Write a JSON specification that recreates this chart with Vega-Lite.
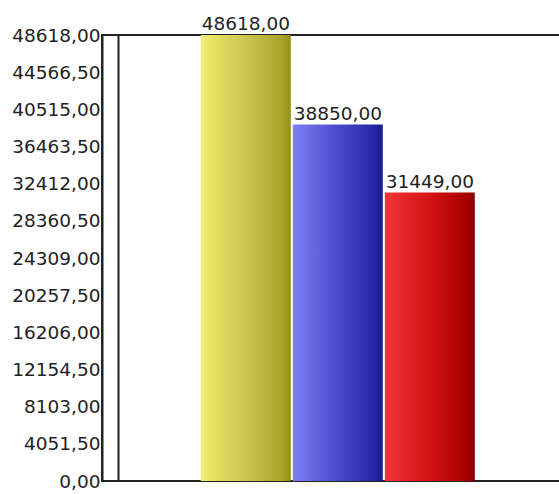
{
  "$schema": "https://vega.github.io/schema/vega-lite/v6.json",
  "autosize": {"type": "none"},
  "padding": {"left": 102, "top": 35, "right": 0, "bottom": 13},
  "width": 458,
  "height": 446,
  "background": "white",
  "config": {
    "view": {"stroke": "#222222", "strokeWidth": 2},
    "font": "DejaVu Sans",
    "axis": {"grid": false},
    "locale": {"number": {"decimal": ",", "thousands": ".", "grouping": [3], "currency": ["", " €"]}}
  },
  "data": {"values": [
    {"name": "1", "value": 48618},
    {"name": "2", "value": 38850},
    {"name": "3", "value": 31449}
  ]},
  "encoding": {
    "x": {"field": "name", "type": "nominal", "axis": null,
      "scale": {"domain": ["1", "2", "3"], "paddingInner": 0.022, "paddingOuter": 1.045, "align": 0.537}},
    "y": {"field": "value", "type": "quantitative",
      "scale": {"domain": [0, 48618], "nice": false, "zero": true}}
  },
  "layer": [
    {
      "transform": [{"filter": "datum.name === '1'"}],
      "mark": {"type": "bar", "color": {"gradient": "linear", "x1": 0, "x2": 1, "y1": 0, "y2": 0,
        "stops": [{"offset": 0, "color": "#f4f07e"}, {"offset": 0.12, "color": "#e6e262"}, {"offset": 0.5, "color": "#cbc653"}, {"offset": 0.9, "color": "#aaa428"}, {"offset": 1, "color": "#948f18"}]}},
      "encoding": {
        "y": {"field": "value", "type": "quantitative",
          "axis": {"values": [0, 4051.5, 8103, 12154.5, 16206, 20257.5, 24309, 28360.5, 32412, 36463.5, 40515, 44566.5, 48618],
            "format": ".2f",
            "ticks": false, "labelPadding": 2, "labelFontSize": 18.5, "labelColor": "#222222",
            "domainColor": "#222222", "domainWidth": 2, "title": null, "orient": "left", "offset": 0}}
      }
    },
    {
      "transform": [{"filter": "datum.name === '2'"}],
      "mark": {"type": "bar", "color": {"gradient": "linear", "x1": 0, "x2": 1, "y1": 0, "y2": 0,
        "stops": [{"offset": 0, "color": "#8080f4"}, {"offset": 0.5, "color": "#4a4acc"}, {"offset": 0.9, "color": "#2626a8"}, {"offset": 1, "color": "#1a1a8e"}]}},
      "encoding": {"y": {"field": "value", "type": "quantitative", "axis": null}}
    },
    {
      "transform": [{"filter": "datum.name === '3'"}],
      "mark": {"type": "bar", "color": {"gradient": "linear", "x1": 0, "x2": 1, "y1": 0, "y2": 0,
        "stops": [{"offset": 0, "color": "#f23636"}, {"offset": 0.5, "color": "#d41212"}, {"offset": 0.9, "color": "#a80000"}, {"offset": 1, "color": "#860000"}]}},
      "encoding": {"y": {"field": "value", "type": "quantitative", "axis": null}}
    },
    {
      "mark": {"type": "text", "align": "center", "baseline": "alphabetic", "dy": -5, "fontSize": 18.5, "color": "#222222"},
      "encoding": {
        "text": {"field": "value", "type": "quantitative", "format": ".2f"},
        "y": {"field": "value", "type": "quantitative",
          "axis": {"orient": "left", "offset": -16, "labels": false, "ticks": false, "title": null,
            "domainColor": "#222222", "domainWidth": 2}}
      }
    }
  ],
  "resolve": {"axis": {"y": "independent"}}
}
